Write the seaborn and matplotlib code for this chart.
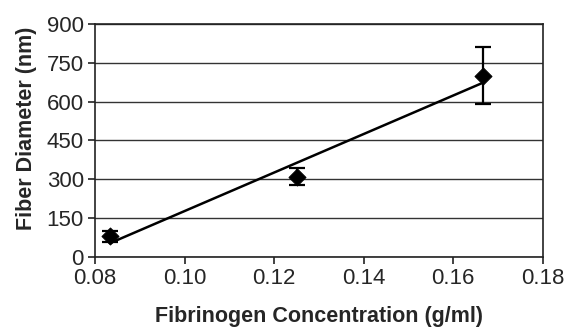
import matplotlib
matplotlib.use("Agg")
import matplotlib.pyplot as plt
import seaborn as sns
import pandas as pd

# Fibrinogen concentration (g/ml) vs. mean fiber diameter (nm) with std. dev.
concentration = [0.0833, 0.125, 0.1667]
diameter = [80, 310, 700]
diameter_err = [22, 32, 110]

x_ticks = [0.08, 0.10, 0.12, 0.14, 0.16, 0.18]
y_ticks = [0, 150, 300, 450, 600, 750, 900]

df = pd.DataFrame({"conc": concentration, "diam": diameter, "err": diameter_err})

sns.set_style("white")
plt.rcParams["font.family"] = ["Liberation Sans", "DejaVu Sans"]

fig = plt.figure(figsize=(5.66, 3.27), dpi=100)
ax = fig.add_axes([0.168, 0.214, 0.791, 0.713])

# Linear trendline over the data range
sns.regplot(data=df, x="conc", y="diam", ci=None, scatter=False, truncate=True,
            line_kws={"color": "black", "lw": 1.8}, ax=ax)

ax.errorbar(df["conc"], df["diam"], yerr=df["err"], fmt="none",
            ecolor="black", elinewidth=1.6, capsize=5.5, capthick=1.6, zorder=3)
sns.scatterplot(data=df, x="conc", y="diam", marker="D", color="black",
                s=75, edgecolor="black", zorder=4, ax=ax)

ax.set_xlim(0.08, 0.18)
ax.set_ylim(0, 900)
ax.set_xticks(x_ticks)
ax.set_xticklabels([f"{t:.2f}" for t in x_ticks])
ax.set_yticks(y_ticks)
ax.yaxis.grid(True, color="#333333", lw=1.0)
ax.set_axisbelow(True)

for s in ax.spines.values():
    s.set_color("#222222")
    s.set_linewidth(1.2)

ax.tick_params(axis="both", which="major", labelsize=16, direction="out",
               length=5, width=1.2, color="#222222", bottom=True, left=True)
ax.tick_params(axis="x", pad=3)
ax.tick_params(axis="y", pad=3)

ax.set_xlabel("Fibrinogen Concentration (g/ml)", fontsize=15.5, fontweight="bold", labelpad=12)
ax.set_ylabel("Fiber Diameter (nm)", fontsize=15.5, fontweight="bold", labelpad=8)
ax.yaxis.set_label_coords(-0.13, 0.55)

fig.savefig("out.png", dpi=100)
